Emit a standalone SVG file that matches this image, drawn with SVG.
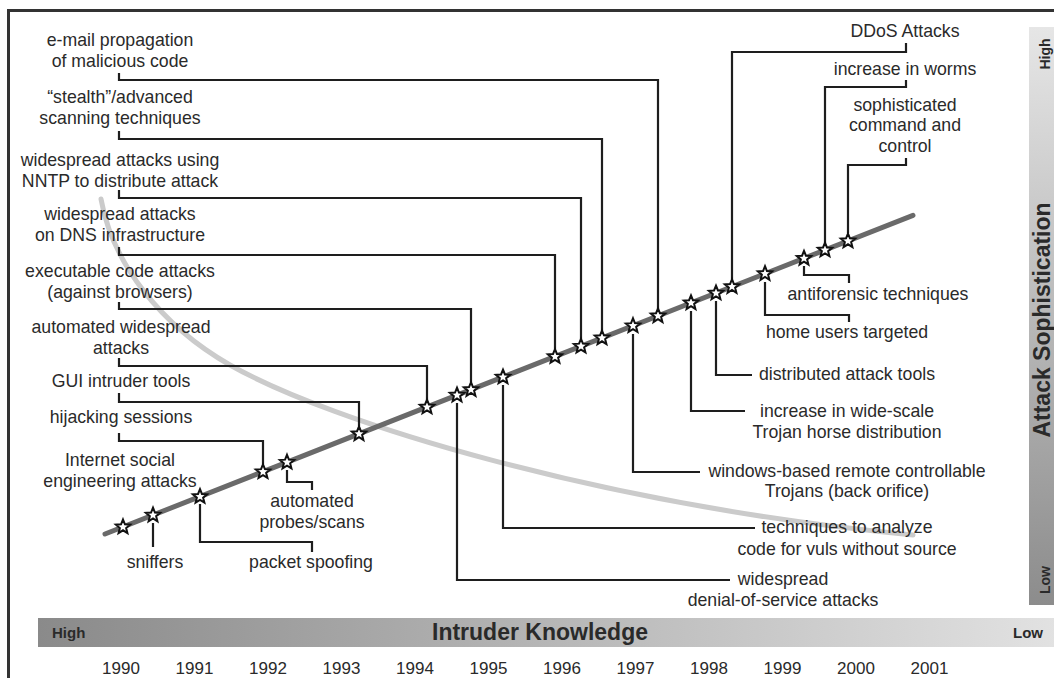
<svg xmlns="http://www.w3.org/2000/svg" xmlns:xlink="http://www.w3.org/1999/xlink" width="1054" height="678" viewBox="0 0 1054 678">
<defs>
<style>
.lbl{font-family:"Liberation Sans",Arial,sans-serif;font-size:17.7px;fill:#2a2a2a;text-anchor:middle}
.yr{font-family:"Liberation Sans",Arial,sans-serif;font-size:17px;fill:#2a2a2a;text-anchor:middle}
.bold{font-family:"Liberation Sans",Arial,sans-serif;font-weight:bold;fill:#2a2a2a}
.con{fill:none;stroke:#1e1e1e;stroke-width:2.2}
.star{fill:#fff;stroke:#111;stroke-width:2;stroke-linejoin:miter}
</style>
<linearGradient id="gh" x1="0" y1="0" x2="1" y2="0">
<stop offset="0" stop-color="#8a8a8a"/>
<stop offset="1" stop-color="#e2e2e2"/>
</linearGradient>
<linearGradient id="gv" x1="0" y1="0" x2="0" y2="1">
<stop offset="0" stop-color="#e6e6e6"/>
<stop offset="1" stop-color="#8c8c8c"/>
</linearGradient>
<path id="star" class="star" d="M0,-7.5 L1.94,-2.67 L7.13,-2.32 L3.14,1.02 L4.41,6.07 L0,3.3 L-4.41,6.07 L-3.14,1.02 L-7.13,-2.32 L-1.94,-2.67 Z"/>
</defs>
<rect width="1054" height="678" fill="#fff"/>
<rect x="8.5" y="10.5" width="1100" height="720" fill="none" stroke="#333" stroke-width="3"/>

<g id="axis-sophistication">
<rect x="1029" y="27" width="30" height="578" fill="url(#gv)"/>
<text class="bold" font-size="14" text-anchor="middle" transform="translate(1050,54) rotate(-90)">High</text>
<text class="bold" font-size="23" text-anchor="middle" transform="translate(1050,320) rotate(-90)">Attack Sophistication</text>
<text class="bold" font-size="14" text-anchor="middle" transform="translate(1050,580) rotate(-90)">Low</text>
</g>

<g id="axis-knowledge">
<rect x="38" y="618" width="1020" height="29" fill="url(#gh)"/>
<text class="bold" font-size="15" x="52" y="638">High</text>
<text class="bold" font-size="23" x="540" y="640" text-anchor="middle">Intruder Knowledge</text>
<text class="bold" font-size="15" x="1043" y="638" text-anchor="end">Low</text>
</g>

<g id="years">
<text class="yr" x="121" y="674">1990</text>
<text class="yr" x="194.5" y="674">1991</text>
<text class="yr" x="268" y="674">1992</text>
<text class="yr" x="341.5" y="674">1993</text>
<text class="yr" x="415" y="674">1994</text>
<text class="yr" x="488.5" y="674">1995</text>
<text class="yr" x="562" y="674">1996</text>
<text class="yr" x="635.5" y="674">1997</text>
<text class="yr" x="709" y="674">1998</text>
<text class="yr" x="782.5" y="674">1999</text>
<text class="yr" x="856" y="674">2000</text>
<text class="yr" x="929.5" y="674">2001</text>
</g>

<g id="knowledge-curve">
<path d="M101,199 C112,262 160,325 230,365 C330,422 600,505 913,535" fill="none" stroke="#cbcbcb" stroke-width="5" stroke-linecap="round"/>
</g>

<g id="connectors">
<path class="con" d="M119,73 V80 H658 V309"/>
<path class="con" d="M119,131 V139 H602 V331"/>
<path class="con" d="M119,190 V198 H581 V339"/>
<path class="con" d="M119,247 V255 H555 V349"/>
<path class="con" d="M119,302 V309 H471 V382"/>
<path class="con" d="M119,358 V366 H427 V400"/>
<path class="con" d="M119,393 V402 H359 V426"/>
<path class="con" d="M119,433 V441 H263 V464"/>
<path class="con" d="M906,43 V52 H732 V279"/>
<path class="con" d="M906,80 V87 H825 V243"/>
<path class="con" d="M906,158 V165 H848 V233"/>
<path class="con" d="M153,523 V547"/>
<path class="con" d="M200,504 V542 H312 V552"/>
<path class="con" d="M287,470 V482 H312 V490"/>
<path class="con" d="M457,403 V580 H730"/>
<path class="con" d="M503,385 V528 H755"/>
<path class="con" d="M633,334 V472 H700"/>
<path class="con" d="M691,311 V411 H745"/>
<path class="con" d="M716,301 V375 H752"/>
<path class="con" d="M765,282 V315 H849 V322"/>
<path class="con" d="M804,266 V275 H849 V283"/>
</g>

<g id="trend-line">
<line x1="105" y1="534" x2="913" y2="215.3" stroke="#6a6a6a" stroke-width="5" stroke-linecap="round"/>
</g>

<g id="stars">
<use xlink:href="#star" x="123" y="527"/>
<use xlink:href="#star" x="153" y="515.2"/>
<use xlink:href="#star" x="200" y="496.6"/>
<use xlink:href="#star" x="263" y="471.8"/>
<use xlink:href="#star" x="287" y="462.3"/>
<use xlink:href="#star" x="359" y="433.9"/>
<use xlink:href="#star" x="427" y="407.1"/>
<use xlink:href="#star" x="457" y="395.2"/>
<use xlink:href="#star" x="471" y="389.7"/>
<use xlink:href="#star" x="503" y="377.1"/>
<use xlink:href="#star" x="555" y="356.6"/>
<use xlink:href="#star" x="581" y="346.3"/>
<use xlink:href="#star" x="602" y="338"/>
<use xlink:href="#star" x="633" y="325.8"/>
<use xlink:href="#star" x="658" y="315.9"/>
<use xlink:href="#star" x="691" y="302.9"/>
<use xlink:href="#star" x="716" y="293.1"/>
<use xlink:href="#star" x="732" y="286.7"/>
<use xlink:href="#star" x="765" y="273.7"/>
<use xlink:href="#star" x="804" y="258.4"/>
<use xlink:href="#star" x="825" y="250.1"/>
<use xlink:href="#star" x="848" y="241"/>
</g>

<g id="n-email"><text class="lbl" x="120" y="46">e-mail propagation</text><text class="lbl" x="120" y="67">of malicious code</text></g>
<g id="n-stealth"><text class="lbl" x="120" y="103">“stealth”/advanced</text><text class="lbl" x="120" y="124">scanning techniques</text></g>
<g id="n-nntp"><text class="lbl" x="120" y="166">widespread attacks using</text><text class="lbl" x="120" y="187">NNTP to distribute attack</text></g>
<g id="n-dns"><text class="lbl" x="120" y="220">widespread attacks</text><text class="lbl" x="120" y="241">on DNS infrastructure</text></g>
<g id="n-exec"><text class="lbl" x="120" y="277">executable code attacks</text><text class="lbl" x="120" y="298">(against browsers)</text></g>
<g id="n-autowide"><text class="lbl" x="121" y="333">automated widespread</text><text class="lbl" x="121" y="354">attacks</text></g>
<g id="n-gui"><text class="lbl" x="121" y="387">GUI intruder tools</text></g>
<g id="n-hijack"><text class="lbl" x="121" y="423">hijacking sessions</text></g>
<g id="n-social"><text class="lbl" x="120" y="466">Internet social</text><text class="lbl" x="120" y="487">engineering attacks</text></g>
<g id="n-sniffers"><text class="lbl" x="155" y="568">sniffers</text></g>
<g id="n-spoofing"><text class="lbl" x="311" y="568">packet spoofing</text></g>
<g id="n-probes"><text class="lbl" x="312" y="507">automated</text><text class="lbl" x="312" y="528">probes/scans</text></g>
<g id="n-dos"><text class="lbl" x="783" y="585">widespread</text><text class="lbl" x="783" y="606">denial-of-service attacks</text></g>
<g id="n-analyze"><text class="lbl" x="847" y="533">techniques to analyze</text><text class="lbl" x="847" y="555">code for vuls without source</text></g>
<g id="n-windows"><text class="lbl" x="847" y="477">windows-based remote controllable</text><text class="lbl" x="847" y="497">Trojans (back orifice)</text></g>
<g id="n-trojan"><text class="lbl" x="847" y="417">increase in wide-scale</text><text class="lbl" x="847" y="438">Trojan horse distribution</text></g>
<g id="n-distributed"><text class="lbl" x="847" y="380">distributed attack tools</text></g>
<g id="n-home"><text class="lbl" x="847" y="338">home users targeted</text></g>
<g id="n-antiforensic"><text class="lbl" x="878" y="300">antiforensic techniques</text></g>
<g id="n-ddos"><text class="lbl" x="905" y="37">DDoS Attacks</text></g>
<g id="n-worms"><text class="lbl" x="905" y="75">increase in worms</text></g>
<g id="n-cc"><text class="lbl" x="905" y="111">sophisticated</text><text class="lbl" x="905" y="131">command and</text><text class="lbl" x="905" y="152">control</text></g>
</svg>
